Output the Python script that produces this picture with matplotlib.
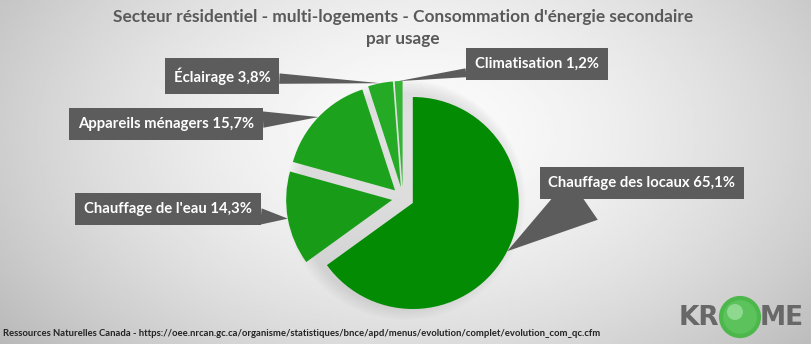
import numpy as np
import matplotlib
matplotlib.use("Agg")
import matplotlib.pyplot as plt
from matplotlib.patches import Circle

# data
names = ['Chauffage des locaux', "Chauffage de l'eau", 'Appareils ménagers', 'Éclairage', 'Climatisation']
values = [65.1, 14.3, 15.7, 3.8, 1.2]
colors = ['#038B03', '#189C18', '#1CA21C', '#25AA25', '#35B535']

title = "Secteur résidentiel - multi-logements - Consommation d'énergie secondaire\npar usage"
source = ("Ressources Naturelles Canada - https://oee.nrcan.gc.ca/organisme/statistiques/bnce/apd/"
          "menus/evolution/complet/evolution_com_qc.cfm")

W, H = 812, 344
fig = plt.figure(figsize=(W / 100, H / 100), dpi=100)
ax = fig.add_axes([0, 0, 1, 1])

# radial grey background
gx, gy = np.meshgrid(np.linspace(0, W, 300), np.linspace(0, H, 150))
d = np.sqrt(((gx - 420) / 520) ** 2 + ((gy - 210) / 330) ** 2)
bg = 0.985 - 0.25 * np.clip(d, 0, 1.2) ** 1.6
ax.imshow(bg, cmap='gray', vmin=0, vmax=1, extent=[0, W, 0, H], origin='lower', zorder=0, aspect='auto')

# soft shadow behind the pie
for k in range(8):
    ax.add_patch(Circle((405, H - 200), 106 + 14 - k * 1.8, color='#9a9a9a', alpha=0.035, zorder=1, lw=0))

# explode is in data units (px) here
wedges, _ = ax.pie(values, colors=colors, startangle=90, counterclock=False,
                   explode=[11] * 5, radius=106, center=(403, H - 198),
                   wedgeprops=dict(linewidth=0), frame=True)
for w in wedges:
    w.set_zorder(2)

# label boxes: text centre (image px), wedge tail width, arrow start inside the box
label_pos = [(642, 183), (168, 209), (166, 124), (222, 76), (537, 64)]
tails = [3.4, 1.1, 1.1, 0.7, 0.6]
rel = [(0.3, 0.4), (0.5, 0.5), (0.5, 0.5), (0.5, 0.5), (0.5, 0.5)]

for w, name, v, (tx, ty), tw, rp in zip(wedges, names, values, label_pos, tails, rel):
    mid = np.radians((w.theta1 + w.theta2) / 2)
    px = w.center[0] + w.r * np.cos(mid)
    py = w.center[1] + w.r * np.sin(mid)
    txt = f"{name} {v:.1f}%".replace('.', ',')
    ax.annotate(txt, xy=(px, py), xytext=(tx, H - ty), ha='center', va='center',
                fontsize=10.7, fontweight='bold', color='white', family='Lato', zorder=5,
                bbox=dict(boxstyle='square,pad=0.6', fc='#5c5c5c', ec='none'),
                arrowprops=dict(arrowstyle=f'wedge,tail_width={tw},shrink_factor=0.5',
                                fc='#5c5c5c', ec='none', shrinkA=0, shrinkB=0, relpos=rp))

ax.text(403, H - 28, title, ha='center', va='center', fontsize=12.4, fontweight='bold',
        color='#595959', family='Lato', linespacing=1.45, zorder=6)

ax.text(3, H - 334, source, ha='left', va='center', fontsize=6.85, fontweight='bold',
        color='#222222', family='Lato', zorder=6)

# logo
ax.text(719, H - 318, 'KR', ha='right', va='center', fontsize=19, fontweight='bold',
        color='#686868', family='DejaVu Sans', zorder=6)
ax.text(760, H - 318, 'ME', ha='left', va='center', fontsize=19, fontweight='bold',
        color='#686868', family='DejaVu Sans', zorder=6)
ax.add_patch(Circle((740, H - 317), 19, fc='#5cc25c', ec='#4cb84c', lw=3, zorder=6))
ax.add_patch(Circle((735, H - 312), 8, fc='#8fd88f', ec='none', zorder=7))

ax.set_xlim(0, W)
ax.set_ylim(0, H)
ax.set_aspect('equal')
ax.axis('off')

fig.savefig('out.png', dpi=100)
